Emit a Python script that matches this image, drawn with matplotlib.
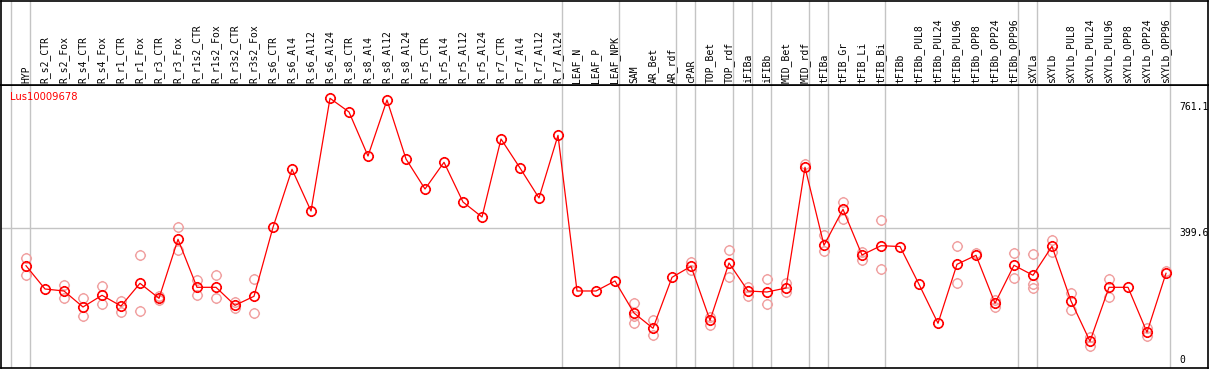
import matplotlib
matplotlib.use("Agg")
import matplotlib.pyplot as plt
from matplotlib.path import Path

gene = "Lus10009678"

samples = [
    "HYP", "R_s2_CTR", "R_s2_Fox", "R_s4_CTR", "R_s4_Fox", "R_r1_CTR", "R_r1_Fox",
    "R_r3_CTR", "R_r3_Fox", "R_r1s2_CTR", "R_r1s2_Fox", "R_r3s2_CTR", "R_r3s2_Fox",
    "R_s6_CTR", "R_s6_Al4", "R_s6_Al12", "R_s6_Al24", "R_s8_CTR", "R_s8_Al4",
    "R_s8_Al12", "R_s8_Al24", "R_r5_CTR", "R_r5_Al4", "R_r5_Al12", "R_r5_Al24",
    "R_r7_CTR", "R_r7_Al4", "R_r7_Al12", "R_r7_Al24", "LEAF_N", "LEAF_P", "LEAF_NPK",
    "SAM", "AR_Bet", "AR_rdf", "cPAR", "TOP_Bet", "TOP_rdf", "iFIBa", "iFIBb",
    "MID_Bet", "MID_rdf", "tFIBa", "tFIB_Gr", "tFIB_Li", "tFIB_Bi", "tFIBb",
    "tFIBb_PUL8", "tFIBb_PUL24", "tFIBb_PUL96", "tFIBb_OPP8", "tFIBb_OPP24",
    "tFIBb_OPP96", "sXYLa", "sXYLb", "sXYLb_PUL8", "sXYLb_PUL24", "sXYLb_PUL96",
    "sXYLb_OPP8", "sXYLb_OPP24", "sXYLb_OPP96",
]

means = [
    292.6, 226.0, 220.3, 174.5, 208.0, 177.3, 242.3, 199.4, 368.1, 230.8, 230.8,
    179.3, 205.1, 402.5, 568.4, 449.1, 771.5, 732.3, 606.4, 766.6, 597.8, 512.0,
    588.4, 474.8, 431.9, 655.0, 572.1, 486.3, 665.6, 220.3, 220.3, 248.9, 157.3,
    113.6, 259.4, 290.9, 136.4, 300.3, 220.3, 217.4, 228.8, 574.1, 351.0, 453.9,
    323.2, 349.8, 347.5, 239.4, 127.9, 296.6, 322.4, 185.1, 293.8, 265.2, 348.1,
    191.6, 76.4, 230.8, 230.8, 102.1, 270.9,
]

replicates = [
    [314.6, 265.2], [], [237.4, 201.1], [199.4, 149.6], [233.7, 182.2],
    [192.5, 161.0], [322.4, 163.0], [206.8, 193.6], [402.5, 336.7],
    [251.7, 208.0], [266.0, 200.2], [189.6, 170.8], [253.7, 156.5],
    [], [], [], [], [], [], [], [], [], [], [], [], [], [], [], [],
    [], [], [], [185.9, 148.7, 127.9], [137.3, 93.5], [], [304.1, 280.3],
    [146.7, 123.0], [336.7, 259.4], [230.8, 206.0], [253.7, 182.2],
    [244.0, 216.5], [583.5], [379.6, 335.5], [474.8, 427.1], [331.8, 308.9],
    [423.3, 283.2], [], [], [], [348.1, 242.3], [328.1], [194.5, 175.3],
    [328.1, 256.6], [325.2, 239.4, 228.8], [366.1, 331.0], [213.7, 165.9],
    [89.5, 63.8], [253.7, 204.0], [], [115.3, 91.5], [276.6],
]

# group boundaries (index of first sample in each group)
group_starts = [0, 1, 29, 32, 35, 36, 38, 39, 40, 42, 43, 46, 53, 54, 61]
scale_labels = ["761.1", "399.6", "0"]
scale_values = [761.1, 399.6, 0]

W, H = 1209, 370
fig = plt.figure(figsize=(W / 100, H / 100), dpi=100)

# pixel layout
x_left, x_right = 1, 1208
x0, dx = 26, 19
y_sep, y_bot = 85, 368
xlim = ((x_left - x0) / dx, (x_right - x0) / dx)
ymax = 809.5
grey = "#c4c4c4"

ax = fig.add_axes([x_left / W, (H - y_bot) / H, (x_right - x_left) / W, (y_bot - y_sep) / H])
hax = fig.add_axes([x_left / W, (H - y_sep) / H, (x_right - x_left) / W, (y_sep - 0.5) / H])

for a in (ax, hax):
    a.set_xlim(*xlim)
    a.set_xticks([])
    a.set_yticks([])
    for s in a.spines.values():
        s.set_color("black")
        s.set_linewidth(1.2)
ax.set_ylim(0, ymax)
hax.set_ylim(0, 1)

off = 15 / 19
for k in group_starts:
    ax.axvline(k - off, color=grey, lw=1, zorder=1)
    hax.axvline(k - off, color=grey, lw=1, zorder=1)
ax.hlines(399.6, xlim[0], group_starts[-1] - off, color=grey, lw=1, zorder=1)

# marker: circle with four little ticks
circ = Path.unit_circle()
t = 1.2
verts = list(circ.vertices) + [(0, 1), (0, t), (0, -1), (0, -t),
                               (1, 0), (t, 0), (-1, 0), (-t, 0)]
codes = list(circ.codes) + [Path.MOVETO, Path.LINETO] * 4
mark = Path(verts, codes)

for i, reps in enumerate(replicates):
    if reps:
        ax.plot([i] * len(reps), reps, linestyle="none", marker=mark, ms=8,
                mfc="none", mec="#f0a0a0", mew=1.0, zorder=2)

ax.plot(range(len(means)), means, color="red", lw=0.9, marker=mark, ms=8,
        mfc="none", mec="red", mew=1.2, zorder=3)

for i, name in enumerate(samples):
    hax.text(i, 2 / 85, name, rotation=90, ha="center", va="bottom",
             family="DejaVu Sans Mono", fontsize=7.0)

fig.text(10 / W, 1 - 97 / H, gene, color="red", fontsize=7.2, va="center",
         family="DejaVu Sans")

for lab, v in zip(scale_labels, scale_values):
    if v == 0:
        ax.annotate(lab, (1179 / W, 0), xycoords=("figure fraction", "data"),
                    xytext=(0, 2), textcoords="offset points", va="bottom",
                    family="DejaVu Sans Mono", fontsize=7.0)
    else:
        ax.annotate(lab, (1179 / W, v), xycoords=("figure fraction", "data"),
                    va="top", family="DejaVu Sans Mono", fontsize=7.0)

fig.savefig("out.png", dpi=100)
